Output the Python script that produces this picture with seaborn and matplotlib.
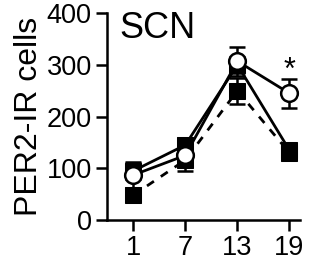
import numpy as np
import pandas as pd
import matplotlib
matplotlib.use("Agg")
import matplotlib.pyplot as plt
import seaborn as sns

# time points and group means / SEM
times = [1, 7, 13, 19]
open_mean = [87, 125, 307, 245]
open_sem = [25, 20, 28, 28]
solid_mean = [95, 145, 300, 135]
solid_sem = [15, 14, 15, 8]
dash_mean = [48, 116, 250, 130]
dash_sem = [10, 22, 25, 8]
star_y = 288

sns.set_theme(style="ticks")
plt.rcParams['font.family'] = ['Liberation Sans', 'DejaVu Sans']

fig = plt.figure(figsize=(3.17, 2.62), dpi=100)
ax = fig.add_axes([0.338, 0.16, 0.608, 0.79])

df = pd.DataFrame({
    'time': times * 3,
    'cells': dash_mean + solid_mean + open_mean,
    'group': ['dash'] * 4 + ['solid'] * 4 + ['open'] * 4,
})

# error bars first so markers sit on top
for m, s in [(dash_mean, dash_sem), (solid_mean, solid_sem), (open_mean, open_sem)]:
    ax.errorbar(times, m, yerr=s, fmt='none', ecolor='black', elinewidth=1.8,
                capsize=6, capthick=1.8, zorder=2)

sns.lineplot(data=df[df.group == 'dash'], x='time', y='cells', ax=ax, color='black',
             linestyle=(0, (3, 3)), linewidth=2, marker='s', markersize=11,
             markerfacecolor='black', markeredgecolor='black', zorder=3)
sns.lineplot(data=df[df.group == 'solid'], x='time', y='cells', ax=ax, color='black',
             linewidth=2, marker='s', markersize=11, markerfacecolor='black',
             markeredgecolor='black', zorder=4)
sns.lineplot(data=df[df.group == 'open'], x='time', y='cells', ax=ax, color='black',
             linewidth=2, marker='o', markersize=12, markerfacecolor='white',
             markeredgecolor='black', markeredgewidth=1.8, zorder=5)

ax.text(19, star_y, '*', ha='center', va='center', fontsize=22, color='black')
ax.text(0.065, 0.925, 'SCN', transform=ax.transAxes, fontsize=26, va='center', ha='left',
        color='black')

ax.set_xlim(-2, 20.2)
ax.set_ylim(0, 400)
ax.set_xticks(times)
ax.set_yticks([0, 100, 200, 300, 400])
ax.set_xlabel('')
ax.set_ylabel('PER2-IR cells', fontsize=23, labelpad=2, color='black')
ax.tick_params(labelsize=19.5, width=1.8, length=8, pad=3, color='black', labelcolor='black')
for side in ['left', 'bottom']:
    ax.spines[side].set_linewidth(1.8)
    ax.spines[side].set_color('black')
sns.despine(ax=ax)

fig.savefig('out.png', dpi=100)
